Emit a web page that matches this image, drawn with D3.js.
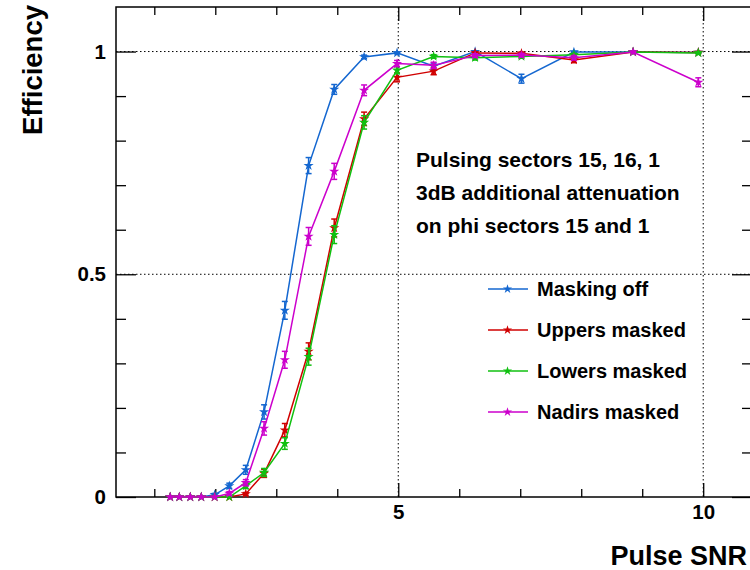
<!DOCTYPE html>
<html>
<head>
<meta charset="utf-8">
<script src="https://cdn.jsdelivr.net/npm/d3@7"></script>
<style>
  html, body { margin: 0; padding: 0; background: #fff; }
  svg { display: block; font-family: "Liberation Sans", Arial, Helvetica, sans-serif; font-weight: bold; }
</style>
</head>
<body>
<svg id="chart" width="750" height="570"></svg>
<script>
// Pulse SNR values at which the trigger efficiency was measured
const snr = [1.26, 1.41, 1.59, 1.77, 1.99, 2.23, 2.50, 2.80, 3.14, 3.53, 3.95, 4.44, 4.98, 5.58, 6.26, 7.02, 7.88, 8.85, 9.92];

// Efficiency and its uncertainty for each masking configuration
const maskingOff    = [0, 0, 0, 0, 0.005, 0.025, 0.061, 0.191, 0.419, 0.744, 0.915, 0.988, 0.997, 0.967, 1.000, 0.939, 0.999, 0.999, 0.998];
const maskingOffErr = [0, 0, 0, 0, 0.003, 0.006, 0.010, 0.016, 0.020, 0.018, 0.011, 0.004, 0.002, 0.007, 0.001, 0.010, 0.001, 0.001, 0.002];

const uppersMasked    = [0, 0, 0, 0, 0, 0, 0.007, 0.053, 0.150, 0.327, 0.604, 0.849, 0.942, 0.956, 0.997, 0.996, 0.981, 0.999, 0.998];
const uppersMaskedErr = [0, 0, 0, 0, 0, 0, 0.003, 0.009, 0.015, 0.019, 0.020, 0.015, 0.010, 0.008, 0.002, 0.003, 0.006, 0.001, 0.002];

const lowersMasked    = [0, 0, 0, 0, 0, 0, 0.025, 0.055, 0.120, 0.315, 0.589, 0.841, 0.958, 0.989, 0.986, 0.989, 0.993, 0.999, 0.997];
const lowersMaskedErr = [0, 0, 0, 0, 0, 0, 0.006, 0.009, 0.013, 0.019, 0.020, 0.015, 0.008, 0.004, 0.005, 0.004, 0.003, 0.001, 0.002];

const nadirsMasked    = [0, 0, 0, 0, 0, 0.008, 0.032, 0.154, 0.308, 0.585, 0.731, 0.913, 0.973, 0.969, 0.991, 0.992, 0.986, 0.999, 0.931];
const nadirsMaskedErr = [0, 0, 0, 0, 0, 0.004, 0.007, 0.015, 0.019, 0.020, 0.018, 0.012, 0.007, 0.007, 0.004, 0.004, 0.005, 0.001, 0.010];

const seriesNames  = ["Masking off", "Uppers masked", "Lowers masked", "Nadirs masked"];
const seriesColors = ["#1467d0", "#d00000", "#10c010", "#cc00cc"];

// Axis ticks
const xMajorTicks = [5, 10];
const xMinorTicks = [1, 2, 3, 4, 6, 7, 8, 9];
const yMajorTicks = [0, 0.5, 1];
const yMinorTicks = [0.1, 0.2, 0.3, 0.4, 0.6, 0.7, 0.8, 0.9];
const yTickLabels = ["0", "0.5", "1"];

const infoLines = ["Pulsing sectors 15, 16, 1", "3dB additional attenuation", "on phi sectors 15 and 1"];

// Frame geometry
const frame = { left: 116, right: 752, top: 7, bottom: 497 };

const x = d3.scaleLinear().domain([0.372, 10.8]).range([frame.left, frame.right]);
const y = d3.scaleLinear().domain([0, 1.1]).range([frame.bottom, frame.top]);

const svg = d3.select("#chart");
svg.append("rect").attr("width", 750).attr("height", 570).attr("fill", "#fff");

// Dotted grid at the major ticks
const grid = svg.append("g").attr("stroke", "#000").attr("stroke-width", 1).attr("stroke-dasharray", "1.5,2.5");
grid.selectAll("line.gx").data(xMajorTicks).join("line")
  .attr("x1", d => x(d)).attr("x2", d => x(d)).attr("y1", frame.top).attr("y2", frame.bottom);
grid.selectAll("line.gy").data(yMajorTicks.filter(d => d > 0)).join("line")
  .attr("y1", d => y(d)).attr("y2", d => y(d)).attr("x1", frame.left).attr("x2", frame.right);

// Axes with ticks pointing into the frame
function styleAxis(g) {
  g.attr("font-family", null).attr("font-size", null);
  g.select(".domain").remove();
  g.selectAll(".tick line").attr("stroke", "#000").attr("stroke-width", 1.3);
  g.selectAll(".tick text").attr("fill", "#000").attr("font-size", 20.5)
    .style("font-weight", "bold")
    .style("font-family", "'Liberation Sans', Arial, sans-serif");
}

svg.append("g").attr("transform", `translate(0,${frame.bottom})`)
  .call(d3.axisBottom(x).tickValues(xMajorTicks).tickSize(-14).tickPadding(7).tickFormat(d3.format("d")))
  .call(styleAxis);
svg.append("g").attr("transform", `translate(0,${frame.bottom})`)
  .call(d3.axisBottom(x).tickValues(xMinorTicks).tickSize(-8).tickFormat(""))
  .call(styleAxis);
svg.append("g").attr("transform", `translate(0,${frame.top})`)
  .call(d3.axisTop(x).tickValues(xMajorTicks).tickSize(-14).tickFormat(""))
  .call(styleAxis);
svg.append("g").attr("transform", `translate(0,${frame.top})`)
  .call(d3.axisTop(x).tickValues(xMinorTicks).tickSize(-8).tickFormat(""))
  .call(styleAxis);

svg.append("g").attr("transform", `translate(${frame.left},0)`)
  .call(d3.axisLeft(y).tickValues(yMajorTicks).tickSize(-20).tickPadding(10)
    .tickFormat((d, i) => yTickLabels[i]))
  .call(styleAxis);
svg.append("g").attr("transform", `translate(${frame.left},0)`)
  .call(d3.axisLeft(y).tickValues(yMinorTicks).tickSize(-10).tickFormat(""))
  .call(styleAxis);
svg.append("g").attr("transform", `translate(${frame.right},0)`)
  .call(d3.axisRight(y).tickValues(yMajorTicks).tickSize(-20).tickFormat(""))
  .call(styleAxis);
svg.append("g").attr("transform", `translate(${frame.right},0)`)
  .call(d3.axisRight(y).tickValues(yMinorTicks).tickSize(-10).tickFormat(""))
  .call(styleAxis);

// Frame
svg.append("rect")
  .attr("x", frame.left).attr("y", frame.top)
  .attr("width", frame.right - frame.left).attr("height", frame.bottom - frame.top)
  .attr("fill", "none").attr("stroke", "#000").attr("stroke-width", 1.5);

// Data series
const seriesValues = [maskingOff, uppersMasked, lowersMasked, nadirsMasked];
const seriesErrors = [maskingOffErr, uppersMaskedErr, lowersMaskedErr, nadirsMaskedErr];

const line = d3.line().x(d => x(d.x)).y(d => y(d.y));
const star = d3.symbol().type(d3.symbolStar).size(32);

seriesValues.forEach((vals, s) => {
  const pts = snr.map((xv, i) => ({ x: xv, y: vals[i], e: seriesErrors[s][i] }));
  const color = seriesColors[s];
  const g = svg.append("g");

  g.append("path").datum(pts).attr("d", line)
    .attr("fill", "none").attr("stroke", color).attr("stroke-width", 1.5);

  const eb = g.append("g").attr("stroke", color).attr("stroke-width", 1.5);
  const withErr = pts.filter(p => p.e > 0);
  eb.selectAll("line.v").data(withErr).join("line")
    .attr("x1", p => x(p.x)).attr("x2", p => x(p.x))
    .attr("y1", p => y(p.y - p.e)).attr("y2", p => y(p.y + p.e));
  eb.selectAll("line.t").data(withErr).join("line")
    .attr("x1", p => x(p.x) - 3).attr("x2", p => x(p.x) + 3)
    .attr("y1", p => y(p.y + p.e)).attr("y2", p => y(p.y + p.e));
  eb.selectAll("line.b").data(withErr).join("line")
    .attr("x1", p => x(p.x) - 3).attr("x2", p => x(p.x) + 3)
    .attr("y1", p => y(p.y - p.e)).attr("y2", p => y(p.y - p.e));

  g.selectAll("path.mk").data(pts).join("path")
    .attr("d", star)
    .attr("transform", p => `translate(${x(p.x)},${y(p.y)})`)
    .attr("fill", color);
});

// Annotation
svg.append("g").selectAll("text").data(infoLines).join("text")
  .attr("x", 416).attr("y", (d, i) => 166.5 + i * 33.4)
  .attr("font-size", 21).attr("fill", "#000")
  .text(d => d);

// Legend
const legend = svg.append("g");
seriesNames.forEach((name, i) => {
  const ly = 289 + i * 41;
  legend.append("line").attr("x1", 488).attr("x2", 528).attr("y1", ly).attr("y2", ly)
    .attr("stroke", seriesColors[i]).attr("stroke-width", 1.5);
  legend.append("path").attr("d", d3.symbol().type(d3.symbolStar).size(26)())
    .attr("transform", `translate(507.5,${ly})`).attr("fill", seriesColors[i]);
  legend.append("text").attr("x", 537).attr("y", ly + 7)
    .attr("font-size", 20).attr("fill", "#000").text(name);
});

// Axis titles
svg.append("text").attr("x", 747).attr("y", 565).attr("text-anchor", "end")
  .attr("font-size", 27).attr("fill", "#000").text("Pulse SNR");
svg.append("text").attr("transform", "translate(42,5) rotate(-90)").attr("text-anchor", "end")
  .attr("font-size", 27.5).attr("fill", "#000").text("Efficiency");
</script>
</body>
</html>
